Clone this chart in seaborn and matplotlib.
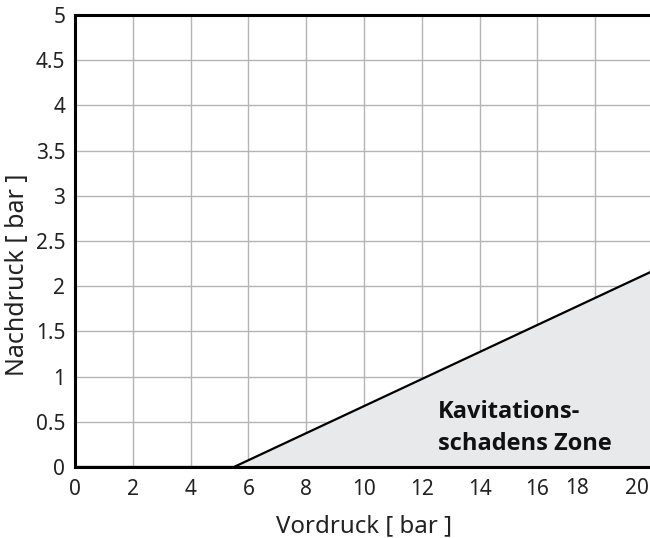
import matplotlib
matplotlib.use("Agg")
import matplotlib.pyplot as plt
import seaborn as sns
import pandas as pd

# Boundary of the cavitation zone: outlet pressure vs. inlet pressure
vordruck = [0.0, 5.5, 20.0]
nachdruck = [0.0, 0.0, 2.17]

x_ticks = [0, 2, 4, 6, 8, 10, 12, 14, 16, 18, 20]
y_ticks = [0, 0.5, 1, 1.5, 2, 2.5, 3, 3.5, 4, 4.5, 5]
y_tick_labels = ["0", "0.5", "1", "1.5", "2", "2.5", "3", "3.5", "4", "4.5", "5"]

zone_label = ["Kavitations-", "schadens Zone"]
x_title = "Vordruck [ bar ]"
y_title = "Nachdruck [ bar ]"

sns.set_theme(style="white")
plt.rcParams["font.family"] = ["Noto Sans", "DejaVu Sans"]

df = pd.DataFrame({"Vordruck": vordruck, "Nachdruck": nachdruck})

fig = plt.figure(figsize=(6.5, 5.38), dpi=100)
ax = fig.add_axes([0.1154, 0.132, 0.8892, 0.840])

ax.fill_between(df["Vordruck"], 0, df["Nachdruck"], color="#e8e9eb", zorder=1, linewidth=0)
sns.lineplot(data=df, x="Vordruck", y="Nachdruck", ax=ax, color="black",
             linewidth=1.6, zorder=3, estimator=None, sort=False)

ax.set_xlim(0, 20)
ax.set_ylim(0, 5)

ax.set_xticks(x_ticks)
ax.set_xticklabels([str(v) if v < 18 else "" for v in x_ticks])
ax.set_yticks(y_ticks)
ax.set_yticklabels(y_tick_labels)

tick_size = 15

# the two rightmost labels sit a little left of their grid lines
for val, dx in [(18, -18), (20, -16)]:
    ax.annotate(str(val), xy=(val, 0), xycoords=("data", "axes fraction"),
                xytext=(dx * 0.72, -11 * 0.72), textcoords="offset points",
                ha="center", va="top", fontsize=tick_size, color="#222222",
                annotation_clip=False)

ax.grid(True, color="#b4b4b4", linewidth=1.0, zorder=0)
ax.set_axisbelow(True)
ax.tick_params(axis="both", which="major", length=6, width=1.0, color="#b4b4b4",
               labelsize=tick_size, labelcolor="#222222", direction="out", pad=1)
ax.tick_params(axis="x", pad=3)

for side in ["left", "top", "bottom", "right"]:
    ax.spines[side].set_color("black")
    ax.spines[side].set_linewidth(2.2)
    ax.spines[side].set_zorder(4)

ax.set_xlabel(x_title, fontsize=17.3, color="#222222", labelpad=10)
ax.set_ylabel(y_title, fontsize=18, color="#222222")
ax.yaxis.set_label_coords(-0.078, 0.426)

bold_font = ["Open Sans", "DejaVu Sans"]
ax.text(12.55, 0.54, zone_label[0], fontsize=17, fontweight="bold", family=bold_font,
        color="#111111", ha="left", va="baseline", zorder=5)
ax.text(12.55, 0.19, zone_label[1], fontsize=17, fontweight="bold", family=bold_font,
        color="#111111", ha="left", va="baseline", zorder=5)

fig.savefig("out.png", dpi=100)
